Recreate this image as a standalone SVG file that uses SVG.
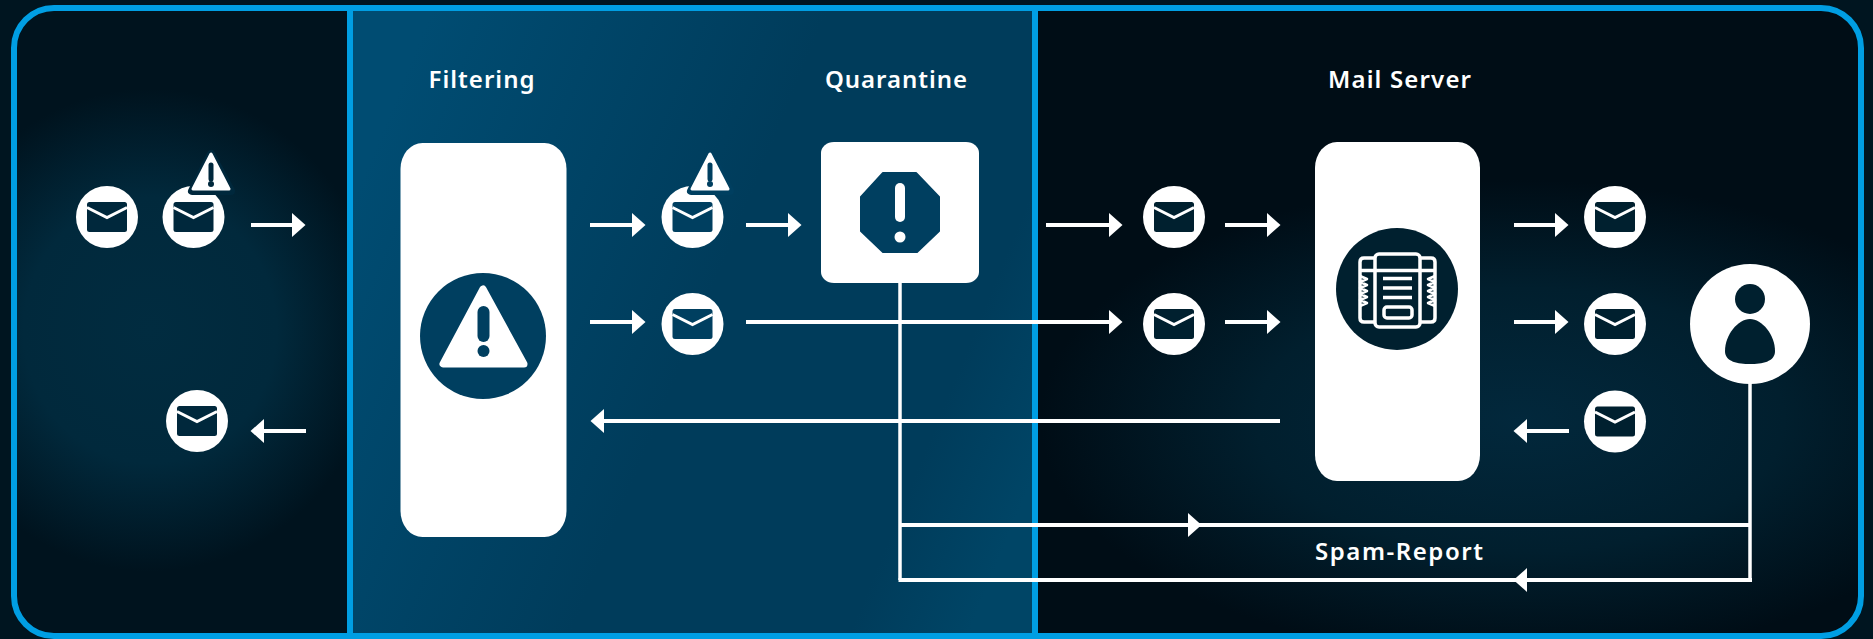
<svg xmlns="http://www.w3.org/2000/svg" xmlns:xlink="http://www.w3.org/1999/xlink" width="1873" height="639" viewBox="0 0 1873 639">
<style>
.lbl{font-family:"Noto Sans","Liberation Sans",sans-serif;font-weight:600;font-size:24px;fill:#fff;text-anchor:start}
.w{fill:#fff}
.line{fill:none;stroke:#fff;stroke-width:4}
.thin{fill:none;stroke:#fff;stroke-width:3.5}
.arrow{marker-end:url(#head)}
.lft{color:#00283c}.mid{color:#003f60}.rgt{color:#00202f}
</style>
<defs>
<marker id="head" markerUnits="userSpaceOnUse" markerWidth="14" markerHeight="26" viewBox="0 0 14 26" refX="0" refY="13" orient="auto"><path d="M0 1 L13.5 13 L0 25Z" fill="#fff"/></marker>
<radialGradient id="gL" gradientUnits="userSpaceOnUse" cx="150" cy="330" r="230" gradientTransform="translate(150 330) scale(1 1.05) translate(-150 -330)"><stop offset="0" stop-color="#012c40"/><stop offset=".55" stop-color="#01293c"/><stop offset="1" stop-color="#00131e"/></radialGradient>
<linearGradient id="gM" gradientUnits="userSpaceOnUse" x1="353" y1="200" x2="1032" y2="480"><stop offset="0" stop-color="#004c72"/><stop offset=".5" stop-color="#003c5b"/><stop offset=".85" stop-color="#003c5b"/><stop offset="1" stop-color="#004566"/></linearGradient>
<radialGradient id="gR" gradientUnits="userSpaceOnUse" cx="1520" cy="420" r="480" gradientTransform="translate(1520 420) scale(1 .5) translate(-1520 -420)"><stop offset="0" stop-color="#02283c"/><stop offset=".55" stop-color="#011f2e"/><stop offset="1" stop-color="#000d16"/></radialGradient>
<clipPath id="panel"><rect x="14" y="8" width="1847" height="629" rx="40" ry="40"/></clipPath>
<symbol id="env" overflow="visible">
<rect x="-20" y="-15" width="40" height="30" rx="2.5" fill="currentColor"/>
<path d="M-20 -9.5 L0 0.5 L20 -9.5" fill="none" stroke="#fff" stroke-width="3"/>
</symbol>
<symbol id="warn" overflow="visible">
<path d="M0 -35 L-18 0 H18Z" fill="#fff" stroke="#fff" stroke-width="3" stroke-linejoin="round"/>
<path d="M0 -24 V-10" stroke="currentColor" stroke-width="5" stroke-linecap="round"/>
<circle cx="0" cy="-5" r="3" fill="currentColor"/>
</symbol>
</defs>
<rect width="1873" height="639" fill="#001520"/>
<g clip-path="url(#panel)">
<rect x="14" y="8" width="336" height="629" fill="url(#gL)"/>
<rect x="350" y="8" width="685" height="629" fill="url(#gM)"/>
<rect x="1035" y="8" width="826" height="629" fill="url(#gR)"/>
</g>
<g id="frame" fill="none" stroke="#009ee3" stroke-width="6">
<rect x="14" y="8" width="1847" height="628" rx="40" ry="40"/>
<path d="M350 8V636M1035 8V636"/>
</g>
<g id="connectors">
<path class="line arrow" d="M251 225H292"/>
<path class="line arrow" d="M590 225H632"/>
<path class="line arrow" d="M746 225H788"/>
<path class="line arrow" d="M590 322H632"/>
<path class="line arrow" d="M746 322H1109"/>
<path class="line arrow" d="M1046 225H1109"/>
<path class="line arrow" d="M1225 225H1267"/>
<path class="line arrow" d="M1225 322H1267"/>
<path class="line arrow" d="M1514 225H1555"/>
<path class="line arrow" d="M1514 322H1555"/>
<path class="line arrow" d="M1569 431H1527"/>
<path class="line arrow" d="M306 431H264"/>
<path class="line arrow" d="M1280 421H604"/>
<path class="thin" d="M900 283V580"/>
<path class="thin" d="M1750 383V580"/>
<path class="line" style="marker-mid:url(#head)" d="M900 525H1188H1750"/>
<path class="line" style="marker-mid:url(#head)" d="M1752 580H1527H898.500"/>
</g>
<g id="mail-in-1" class="lft"><circle class="w" cx="107" cy="217" r="31"/><use href="#env" x="107" y="217"/></g>
<g id="mail-in-2" class="lft"><circle class="w" cx="193.500" cy="217" r="31"/><use href="#env" x="193.500" y="217"/><path d="M211 154 L192 191 H231Z" fill="currentColor" stroke="currentColor" stroke-width="8" stroke-linejoin="round" transform="translate(0 0)" clip-path="url(#none)"/><use href="#warn" x="211" y="189"/></g>
<g id="mail-back" class="lft"><circle class="w" cx="197" cy="421" r="31"/><use href="#env" x="197" y="421"/></g>
<g id="filtering" class="mid"><text class="lbl" x="428.500" y="88" textLength="106" lengthAdjust="spacing">Filtering</text>
<rect class="w" x="400.500" y="143" width="166" height="394" rx="22" ry="26"/>
<circle cx="483" cy="336" r="63" fill="currentColor"/>
<path d="M483 289 L443 364 H524Z" fill="#fff" stroke="#fff" stroke-width="7" stroke-linejoin="round"/>
<path d="M483.500 312V336" stroke="currentColor" stroke-width="12" stroke-linecap="round"/>
<circle cx="483.500" cy="351" r="6" fill="currentColor"/></g>
<g id="mail-spam" class="mid"><circle class="w" cx="692.500" cy="217" r="31"/><use href="#env" x="692.500" y="217"/><path d="M710 154 L691 191 H730Z" fill="currentColor" stroke="currentColor" stroke-width="8" stroke-linejoin="round"/><use href="#warn" x="710" y="189"/></g>
<g id="mail-clean" class="mid"><circle class="w" cx="692.500" cy="324" r="31"/><use href="#env" x="692.500" y="324"/></g>
<g id="quarantine" class="mid"><text class="lbl" x="825" y="88" textLength="142" lengthAdjust="spacing">Quarantine</text>
<rect class="w" x="821" y="142" width="158" height="141" rx="13" ry="11"/>
<path d="M883 173H916L939 197V231L917 252H883L861 231V197Z" fill="currentColor" stroke="currentColor" stroke-width="2" stroke-linejoin="round"/>
<path d="M900 188V217" stroke="#fff" stroke-width="10" stroke-linecap="round"/>
<circle cx="900" cy="237" r="5.500" fill="#fff"/></g>
<g id="mail-s1" class="rgt"><circle class="w" cx="1174" cy="217" r="31"/><use href="#env" x="1174" y="217"/></g>
<g id="mail-s2" class="rgt"><circle class="w" cx="1174" cy="324" r="31"/><use href="#env" x="1174" y="324"/></g>
<g id="mail-server" class="rgt"><text class="lbl" x="1328" y="88" textLength="143" lengthAdjust="spacing">Mail Server</text>
<rect class="w" x="1315" y="142" width="165" height="339" rx="22" ry="26"/>
<circle cx="1397" cy="289" r="61" fill="currentColor"/>
<g fill="none" stroke="#fff" stroke-width="3.500" stroke-linejoin="round">
<rect x="1375" y="254" width="45" height="73" rx="4"/>
<path d="M1375 258H1364Q1360 258 1360 262V318Q1360 322 1364 322H1375M1420 258H1431Q1435 258 1435 262V318Q1435 322 1431 322H1420"/>
<path d="M1375 270.500H1420M1360 270.500H1375M1420 270.500H1435"/>
<path d="M1383 278.500H1412M1383 288H1412M1383 297.500H1412"/>
<rect x="1384" y="307" width="28" height="11" rx="3"/>
<path d="M1360 276l7 3-7 3 7 3-7 3 7 3-7 3 7 3-7 3 7 3-7 3M1435 276l-7 3 7 3-7 3 7 3-7 3 7 3-7 3 7 3-7 3 7 3" stroke-width="2.500"/>
</g></g>
<g id="mail-o1" class="rgt"><circle class="w" cx="1615" cy="217" r="31"/><use href="#env" x="1615" y="217"/></g>
<g id="mail-o2" class="rgt"><circle class="w" cx="1615" cy="324" r="31"/><use href="#env" x="1615" y="324"/></g>
<g id="mail-o3" class="rgt"><circle class="w" cx="1615" cy="421.500" r="31"/><use href="#env" x="1615" y="421.500"/></g>
<g id="user" class="rgt"><circle class="w" cx="1750" cy="324" r="60"/>
<circle cx="1750" cy="299" r="15" fill="currentColor"/>
<path d="M1725 351C1725 335 1738 319 1750 319C1762 319 1775 335 1775 351C1775 362 1762 364 1750 364C1738 364 1725 362 1725 351Z" fill="currentColor"/></g>
<text id="spam-report" class="lbl" x="1315" y="560" textLength="168" lengthAdjust="spacing">Spam-Report</text>
</svg>
